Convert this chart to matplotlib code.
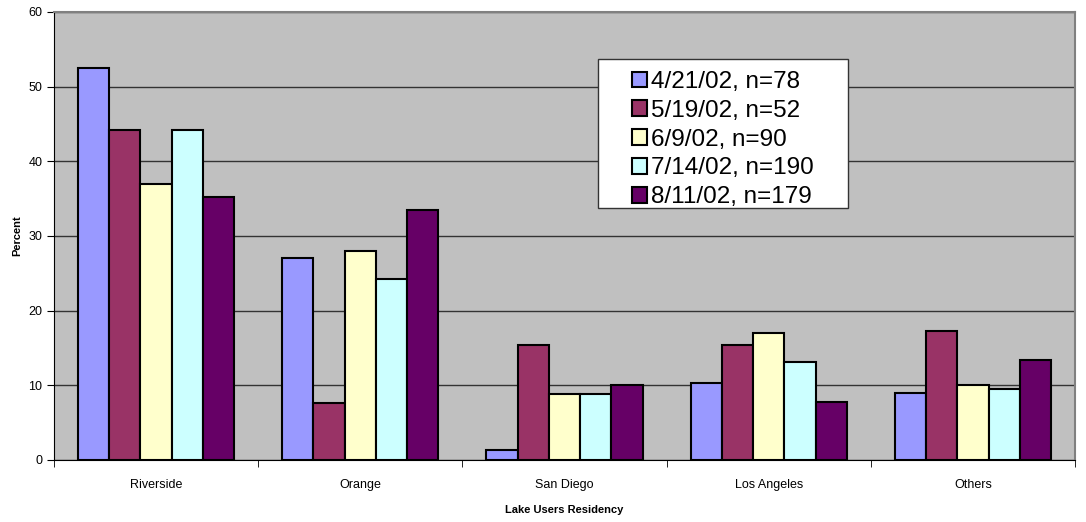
import numpy as np
import matplotlib
matplotlib.use("Agg")
import matplotlib.pyplot as plt
from matplotlib.patches import Rectangle

plt.rcParams["font.family"] = ["Liberation Sans", "DejaVu Sans"]

categories = ["Riverside", "Orange", "San Diego", "Los Angeles", "Others"]
series_labels = ["4/21/02, n=78", "5/19/02, n=52", "6/9/02, n=90", "7/14/02, n=190", "8/11/02, n=179"]
apr_21 = [52.5, 27.0, 1.3, 10.3, 9.0]
may_19 = [44.2, 7.7, 15.4, 15.4, 17.3]
jun_9 = [36.9, 28.0, 8.9, 17.0, 10.0]
jul_14 = [44.2, 24.2, 8.9, 13.1, 9.5]
aug_11 = [35.2, 33.5, 10.0, 7.8, 13.4]
series_values = [apr_21, may_19, jun_9, jul_14, aug_11]
colors = ["#9999ff", "#993366", "#ffffcc", "#ccffff", "#660066"]

fig = plt.figure(figsize=(10.86, 5.22), dpi=100)
ax = fig.add_axes([54 / 1086, 1 - 460 / 522, (1075 - 54) / 1086, (460 - 12) / 522])
ax.set_facecolor("#c0c0c0")

x = np.arange(len(categories))
width = 0.153
for i, (vals, label, color) in enumerate(zip(series_values, series_labels, colors)):
    ax.bar(x + (i - 2) * width, vals, width, color=color, edgecolor="black",
           linewidth=1.5, label=label, zorder=3)

ax.set_xlim(-0.5, len(categories) - 0.5)
ax.set_ylim(0, 60)
ax.set_yticks(range(0, 61, 10))
ax.yaxis.grid(True, color="#333333", linewidth=1.0, zorder=1)
ax.set_axisbelow(True)

ax.set_xticks(x)
ax.set_xticklabels(categories, fontsize=9)
ax.tick_params(axis="x", length=0, pad=14)
ax.set_xticks(np.arange(len(categories) + 1) - 0.5, minor=True)
ax.tick_params(axis="x", which="minor", length=5, direction="out", color="black")
ax.tick_params(axis="y", labelsize=9, length=5, direction="out")

for side in ["top", "right"]:
    ax.spines[side].set_color("#808080")
    ax.spines[side].set_linewidth(1.5)
ax.spines["left"].set_color("black")
ax.spines["bottom"].set_color("black")

ax.set_xlabel("Lake Users Residency", fontsize=8, fontweight="bold", labelpad=10)
ax.set_ylabel("Percent", fontsize=8, fontweight="bold", labelpad=4)

# legend box drawn separately so it can be wider than its entries
box = Rectangle(((598 - 54) / 1021, (460 - 208) / 448), 250 / 1021, 149 / 448,
                transform=ax.transAxes, facecolor="white", edgecolor="#333333",
                linewidth=1.0, zorder=5)
ax.add_patch(box)
leg = ax.legend(loc="upper left", bbox_to_anchor=((632 - 54) / 1021, (460 - 71) / 448),
                fontsize=17.5, frameon=False, handlelength=0.62, handleheight=0.62,
                handletextpad=0.15, labelspacing=0.28, borderpad=0, borderaxespad=0)
leg.set_zorder(6)

fig.savefig("out.png", dpi=100)
